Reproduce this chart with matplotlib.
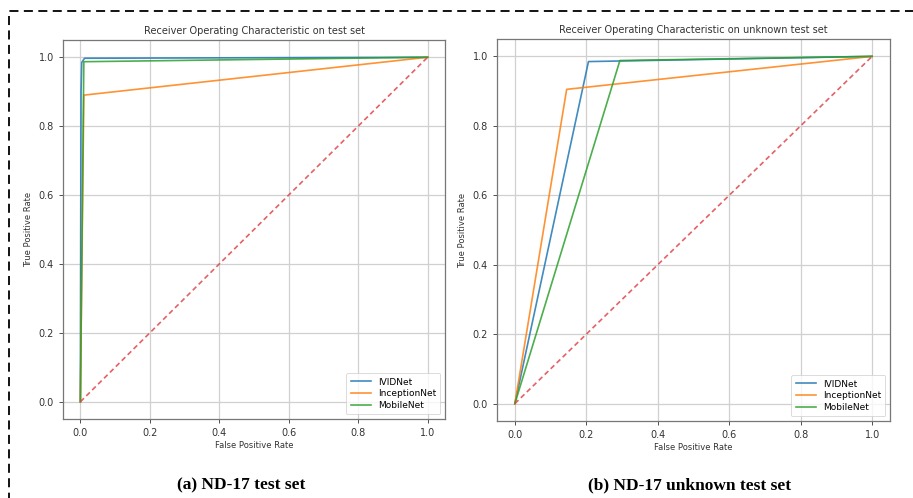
import matplotlib
matplotlib.use('Agg')
import matplotlib.pyplot as plt
from matplotlib.patches import Rectangle

# left panel: ND-17 test set
fpr_ivid_a = [0.0, 0.002, 0.004, 0.012, 1.0]
tpr_ivid_a = [0.0, 0.90, 0.985, 0.997, 1.0]
fpr_incep_a = [0.0, 0.010, 1.0]
tpr_incep_a = [0.0, 0.890, 1.0]
fpr_mobile_a = [0.0, 0.010, 1.0]
tpr_mobile_a = [0.0, 0.987, 1.0]

# right panel: ND-17 unknown test set
fpr_ivid_b = [0.0, 0.206, 1.0]
tpr_ivid_b = [0.0, 0.985, 1.0]
fpr_incep_b = [0.0, 0.145, 1.0]
tpr_incep_b = [0.0, 0.905, 1.0]
fpr_mobile_b = [0.0, 0.294, 1.0]
tpr_mobile_b = [0.0, 0.988, 1.0]

names = ['IVIDNet', 'InceptionNet', 'MobileNet']
titles = ['Receiver Operating Characteristic on test set',
          'Receiver Operating Characteristic on unknown test set']
captions = ['(a) ND-17 test set', '(b) ND-17 unknown test set']

fig = plt.figure(figsize=(9.13, 4.98), dpi=100)
ax1 = fig.add_axes([63/913, 1-419/498, (445-63)/913, (419-40)/498])
ax2 = fig.add_axes([497/913, 1-421/498, (890-497)/913, (421-39)/498])

data = [
    [(fpr_ivid_a, tpr_ivid_a), (fpr_incep_a, tpr_incep_a), (fpr_mobile_a, tpr_mobile_a)],
    [(fpr_ivid_b, tpr_ivid_b), (fpr_incep_b, tpr_incep_b), (fpr_mobile_b, tpr_mobile_b)],
]

for ax, curves, title in zip([ax1, ax2], data, titles):
    for (f, t), name in zip(curves, names):
        ax.plot(f, t, lw=1.2, alpha=0.85, label=name)
    ax.plot([0, 1], [0, 1], color='#e0454a', ls=(0, (3, 2)), lw=1.2, alpha=0.85)
    ax.set_xlim(-0.05, 1.05)
    ax.set_ylim(-0.05, 1.05)
    ax.grid(True, color='#d0d0d0', lw=0.9)
    ax.set_title(title, fontsize=7, color='#333333', pad=4)
    ax.set_xlabel('False Positive Rate', fontsize=6, color='#333333', labelpad=2)
    ax.set_ylabel('True Positive Rate', fontsize=6, color='#333333', labelpad=4)
    ax.tick_params(labelsize=7, colors='#333333', length=3, width=0.6)
    for s in ax.spines.values():
        s.set_color('#777777')
        s.set_linewidth(0.9)
    leg = ax.legend(loc='lower right', fontsize=6.5, handlelength=2.2, borderpad=0.5, labelspacing=0.3)
    leg.get_frame().set_linewidth(0.6)

fig.text(241/913, 1-485/498, captions[0], ha='center', va='center',
         fontsize=12.5, fontweight='bold', family='Liberation Serif')
fig.text(690/913, 1-485/498, captions[1], ha='center', va='center',
         fontsize=12.5, fontweight='bold', family='Liberation Serif')

# dashed frame around the figure
fig.patches.append(Rectangle((9/913, -0.1), 1.05, 1 - 11/498 + 0.1, transform=fig.transFigure,
                             fill=False, ls=(0, (5, 3)), lw=1.3, color='black'))

plt.savefig('out.png', dpi=100)
